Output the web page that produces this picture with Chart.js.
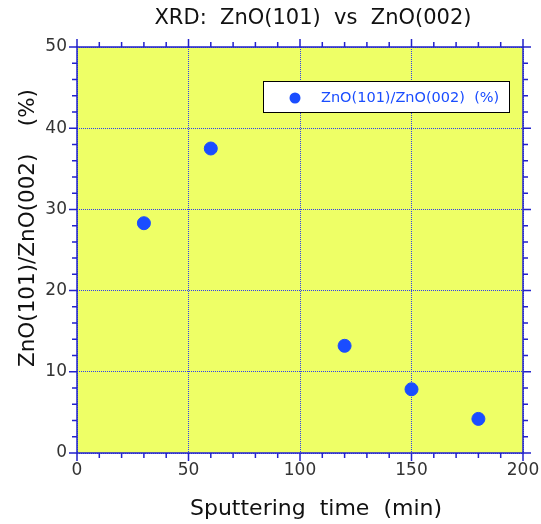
<!doctype html>
<html>
<head>
	<title>XRD ZnO ratio</title>
	<script src="https://cdn.jsdelivr.net/npm/chart.js@4"></script>
	<style>
		body { margin: 0; background: #fff; }
		#holder { width: 541px; height: 524px; }
	</style>
</head>
<body>
	<div id="holder">
		<canvas id="chart-area"></canvas>
	</div>

	<script>
		// sputtering time (min) and ZnO(101)/ZnO(002) ratio (%)
		var sputterTime = [30, 60, 120, 150, 180];
		var ratio = [28.3, 37.5, 13.2, 7.85, 4.2];
		var seriesLabel = 'ZnO(101)/ZnO(002)  (%)';
		var chartTitle = 'XRD:  ZnO(101)  vs  ZnO(002)';
		var xTitle = 'Sputtering  time  (min)';
		var yTitle = 'ZnO(101)/ZnO(002)    (%)';

		var axisBlue = '#2222cc';
		var gridBlue = '#3040ee';
		var pointBlue = '#1a4dff';
		var font = '"DejaVu Sans", sans-serif';

		// plot background + frame with ticks on all sides, titles, legend box
		var decor = {
			id: 'decor',
			beforeDraw(chart) {
				var a = chart.chartArea, c = chart.ctx;
				c.save();
				c.fillStyle = '#eeff66';
				c.fillRect(a.left, a.top, a.right - a.left, a.bottom - a.top);
				c.restore();
			},
			afterDraw(chart) {
				var a = chart.chartArea, c = chart.ctx;
				var xs = chart.scales.x, ys = chart.scales.y;
				c.save();
				c.strokeStyle = axisBlue;
				c.lineWidth = 1.5;
				c.strokeRect(a.left, a.top, a.right - a.left, a.bottom - a.top);
				c.beginPath();
				for (var v = 0; v <= 200; v += 10) {
					var px = xs.getPixelForValue(v);
					var len = v % 50 === 0 ? 8 : 5;
					c.moveTo(px, a.bottom); c.lineTo(px, a.bottom + len);
					c.moveTo(px, a.top); c.lineTo(px, a.top - len);
				}
				for (var w = 0; w <= 50; w += 2) {
					var py = ys.getPixelForValue(w);
					var l2 = w % 10 === 0 ? 8 : 5;
					c.moveTo(a.left, py); c.lineTo(a.left - l2, py);
					c.moveTo(a.right, py); c.lineTo(a.right + l2, py);
				}
				c.stroke();

				// titles
				c.fillStyle = '#111';
				c.textAlign = 'center';
				c.textBaseline = 'middle';
				c.font = '21px ' + font;
				c.fillText(chartTitle, 313, 19);
				c.font = '22px ' + font;
				c.fillText(xTitle, 316, 509);
				c.font = '21.5px ' + font;
				c.translate(28, 228);
				c.rotate(-Math.PI / 2);
				c.fillText(yTitle, 0, 0);
				c.restore();

				// legend
				c.save();
				c.fillStyle = '#fff';
				c.fillRect(263.5, 81.5, 246, 31);
				c.strokeStyle = '#000';
				c.lineWidth = 1;
				c.strokeRect(263.5, 81.5, 246, 31);
				c.fillStyle = pointBlue;
				c.beginPath();
				c.arc(295, 98, 5.5, 0, Math.PI * 2);
				c.fill();
				c.font = '14.5px ' + font;
				c.textBaseline = 'middle';
				c.fillText(seriesLabel, 321, 98);
				c.restore();
			}
		};

		var points = sputterTime.map(function (t, i) { return { x: t, y: ratio[i] }; });

		function noOverhang(s) {
			s.paddingLeft = 0; s.paddingRight = 0; s.paddingTop = 0; s.paddingBottom = 0;
		}

		new Chart(document.getElementById('chart-area'), {
			type: 'scatter',
			data: {
				datasets: [{
					label: seriesLabel,
					data: points,
					backgroundColor: pointBlue,
					borderColor: pointBlue,
					pointRadius: 6.5,
					pointHoverRadius: 6.5,
				}],
			},
			options: {
				responsive: true,
				maintainAspectRatio: false,
				animation: false,
				layout: { padding: { top: 47, right: 18, left: 0, bottom: 0 } },
				plugins: { legend: { display: false }, tooltip: { enabled: false } },
				scales: {
					x: {
						type: 'linear', min: 0, max: 200,
						afterFit: function (s) { s.height = 71; noOverhang(s); },
						border: { display: false, dash: [1, 1] },
						grid: { color: gridBlue, drawTicks: false, lineWidth: 1 },
						ticks: { stepSize: 50, padding: 7, color: '#333', font: { size: 17, family: font } },
					},
					y: {
						type: 'linear', min: 0, max: 50,
						afterFit: function (s) { s.width = 77; noOverhang(s); },
						border: { display: false, dash: [1, 1] },
						grid: { color: gridBlue, drawTicks: false, lineWidth: 1 },
						ticks: { stepSize: 10, padding: 10, color: '#333', font: { size: 17, family: font } },
					},
				},
			},
			plugins: [decor],
		});
	</script>
</body>
</html>
